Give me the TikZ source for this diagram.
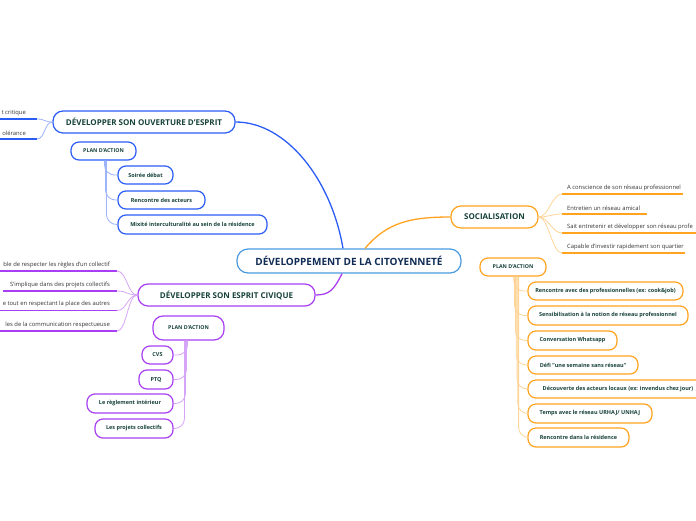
\documentclass[tikz,border=0pt]{standalone}
\usepackage{fontspec}
\setmainfont{Open Sans}
\definecolor{blueC}{HTML}{2C5CF6}
\definecolor{blueL}{HTML}{9DB3FB}
\definecolor{purpC}{HTML}{A83FF2}
\definecolor{purpL}{HTML}{D6A5F8}
\definecolor{oranC}{HTML}{FFA320}
\definecolor{oranL}{HTML}{FFD499}
\definecolor{mainC}{HTML}{4A9AE0}
\definecolor{txt}{HTML}{17423A}
\definecolor{maintxt}{HTML}{102C55}
\definecolor{leaftxt}{HTML}{333333}
\tikzset{
  box/.style={draw, rounded corners=8pt, fill=white, line width=1.2pt, text=txt,
    font=\fontsize{5.5}{6.5}\selectfont\bfseries, inner xsep=5pt, inner ysep=0pt, minimum height=18pt, align=center},
  planbox/.style={box, font=\fontsize{5.3}{6.5}\selectfont\bfseries},
  branch/.style={box, rounded corners=10pt, minimum height=22pt, font=\fontsize{8}{9.5}\selectfont\bfseries},
  mainbox/.style={box, draw=mainC, rounded corners=11pt, minimum height=24pt, text=maintxt,
    font=\fontsize{10}{12}\selectfont\bfseries},
  leafR/.style={font=\fontsize{5.85}{7}\selectfont, text=leaftxt, inner xsep=7pt, inner ysep=3pt,
    anchor=south east},
  leafL/.style={font=\fontsize{5.85}{7}\selectfont, text=leaftxt, inner xsep=5pt, inner ysep=3pt,
    anchor=south west},
  uline/.style={line width=1.8pt},
  conn/.style={line width=1.3pt},
  sub/.style={line width=0.8pt, rounded corners=10pt},
}
\begin{document}
\begin{tikzpicture}[x=1pt,y=-1pt]
\useasboundingbox (0,0) rectangle (696,520);
\coordinate (edgeL) at (-2,0);
\coordinate (edgeS) at (3,0);

% main
\node[mainbox, minimum width=224pt] (main) at (349,261) {DÉVELOPPEMENT DE LA CITOYENNETÉ};

% ---------- blue branch ----------
\node[branch, draw=blueC, minimum width=182pt] (b1) at (144,122) {DÉVELOPPER SON OUVERTURE D'ESPRIT};
\draw[blueC, conn] ([xshift=-6pt]main.north) .. controls +(-12,-70) and +(50,0) .. (b1.east);

\node[leafR, inner xsep=11pt] (l11) at (37,119) {t critique};
\node[leafR, inner xsep=11pt] (l12) at (37,139) {olérance};
\draw[blueC, uline] (l11.south east) -- (l11.south east -| edgeL);
\draw[blueC, uline] (l12.south east) -- (l12.south east -| edgeL);
\draw[blueL, line width=0.8pt] (b1.west) .. controls +(-8,0) and +(8,0) .. (l11.south east);
\draw[blueL, line width=0.8pt] (b1.west) .. controls +(-8,0) and +(8,0) .. (l12.south east);

\node[planbox, draw=blueC, minimum width=65pt] (p1) at (103.5,151) {PLAN D'ACTION};
\node[box, draw=blueC, minimum width=55pt] (c11) at (145.5,175) {Soirée débat};
\node[box, draw=blueC, minimum width=87pt] (c12) at (161.5,200) {Rencontre des acteurs};
\node[box, draw=blueC, minimum width=149pt, minimum height=19pt] (c13) at (192.5,224.5) {Mixité interculturalité au sein de la résidence};
\draw[blueL, sub] ([xshift=1pt]p1.south) |- (c11.west);
\draw[blueL, sub] ([xshift=2pt]p1.south) |- (c12.west);
\draw[blueL, sub] ([xshift=3pt]p1.south) |- (c13.west);

% ---------- purple branch ----------
\node[branch, draw=purpC, minimum width=177pt] (b2) at (226.5,295) {DÉVELOPPER SON ESPRIT CIVIQUE};
\draw[purpC, conn] ([xshift=-7pt]main.south) .. controls +(-8,16) and +(14,0) .. (b2.east);

\node[leafR] (l21) at (117,271) {ble de respecter les règles d’un collectif};
\node[leafR] (l22) at (117,291) {S’implique dans des projets collectifs};
\node[leafR] (l23) at (117,310.5) {e tout en respectant la place des autres};
\node[leafR] (l24) at (117,331) {les de la communication respectueuse};
\foreach \l in {l21,l23,l24}{
  \draw[purpC, uline] (\l.south east) -- (\l.south east -| edgeL);
}
\draw[purpC, uline] (l22.south east) -- (l22.south east -| edgeS);
\foreach \l in {l21,l22,l23,l24}{
  \draw[purpL, line width=0.8pt] (b2.west) .. controls +(-10,0) and +(10,0) .. (\l.south east);
}

\node[planbox, draw=purpC, minimum width=71pt, minimum height=24pt, rounded corners=10pt] (p2) at (188.5,328) {PLAN D'ACTION};
\node[box, draw=purpC, minimum width=31pt] (c21) at (157.5,355) {CVS};
\node[box, draw=purpC, minimum width=34pt, minimum height=19pt] (c22) at (156,379.5) {PTQ};
\node[box, draw=purpC, minimum width=86pt, minimum height=19pt] (c23) at (130,403.5) {Le règlement intérieur};
\node[box, draw=purpC, minimum width=78pt, minimum height=19pt] (c24) at (134,428.5) {Les projets collectifs};
\draw[purpL, sub] ([xshift=-1pt]p2.south) |- (c21.east);
\draw[purpL, sub] ([xshift=-2pt]p2.south) |- (c22.east);
\draw[purpL, sub] ([xshift=-3pt]p2.south) |- (c23.east);
\draw[purpL, sub] ([xshift=-4pt]p2.south) |- (c24.east);

% ---------- orange branch ----------
\node[branch, draw=oranC, minimum width=87pt] (b3) at (494.5,217) {SOCIALISATION};
\draw[oranC, conn] ([xshift=16pt]main.north) .. controls +(22,-26) and +(-40,0) .. (b3.west);

\coordinate (e31) at (683,0);
\coordinate (e32) at (647,0);
\coordinate (e33) at (700,0);
\coordinate (e34) at (685,0);
\node[leafL] (l31) at (562,194) {A conscience de son réseau professionnel};
\node[leafL] (l32) at (562,214) {Entretien un réseau amical};
\node[leafL] (l33) at (562,233) {Sait entretenir et développer son réseau profe};
\node[leafL] (l34) at (562,253) {Capable d’investir rapidement son quartier};
\foreach \l/\e in {l31/e31,l32/e32,l33/e33,l34/e34}{
  \draw[oranC, uline] (\l.south west) -- (\l.south west -| \e);
  \draw[oranL, line width=0.8pt] (b3.east) .. controls +(10,0) and +(-10,0) .. (\l.south west);
}

\node[planbox, draw=oranC, minimum width=66pt] (p3) at (513,267) {PLAN D'ACTION};
\node[box, draw=oranC, minimum width=155pt] (c31) at (605.5,291) {Rencontre avec des professionnelles (ex: cook\&job)};
\node[box, draw=oranC, minimum width=160pt, minimum height=19pt] (c32) at (608,315.5) {Sensibilisation à la notion de réseau professionnel};
\node[box, draw=oranC, minimum width=89pt, minimum height=19pt] (c33) at (572.5,340.5) {Conversation Whatsapp};
\node[box, draw=oranC, minimum width=110pt] (c34) at (583,365) {Défi "une semaine sans réseau"};
\node[box, draw=oranC, minimum width=180pt] (c35) at (618,389) {Découverte des acteurs locaux (ex: invendus chez jour)};
\node[box, draw=oranC, minimum width=124pt, minimum height=19pt] (c36) at (590,413.5) {Temps avec le réseau URHAJ/ UNHAJ};
\node[box, draw=oranC, minimum width=101pt, minimum height=19pt] (c37) at (578.5,437.5) {Rencontre dans la résidence};
\foreach \c [count=\i] in {c31,c32,c33,c34,c35,c36,c37}{
  \draw[oranL, sub] ([xshift={\i*0.8pt}]p3.south) |- (\c.west);
}
\end{tikzpicture}
\end{document}
